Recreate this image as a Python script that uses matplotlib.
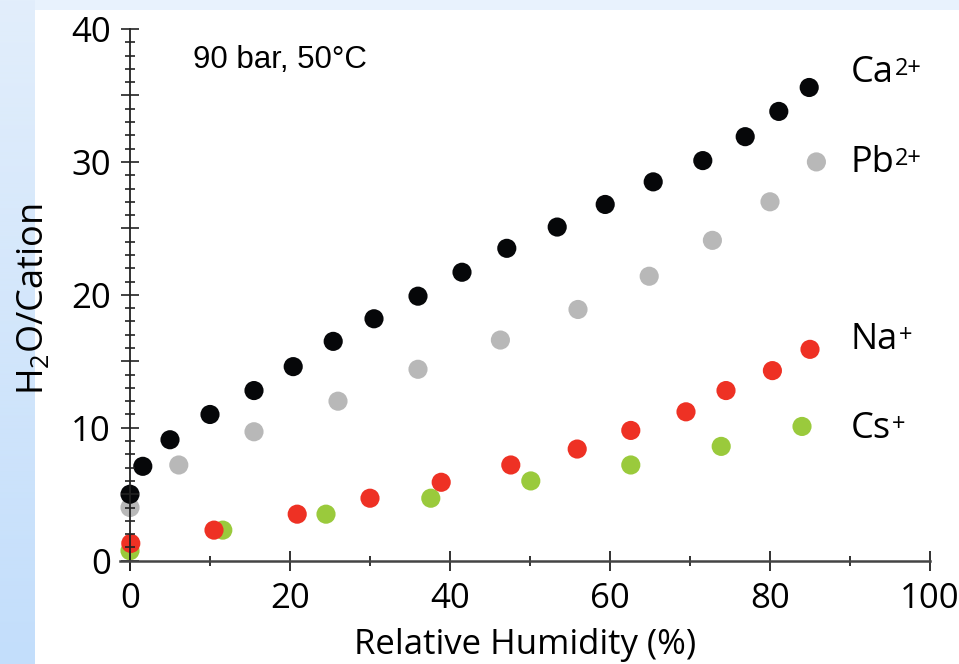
import matplotlib
matplotlib.use("Agg")
import matplotlib.pyplot as plt
from matplotlib.ticker import MultipleLocator
import numpy as np

plt.rcParams['font.family'] = ['Open Sans', 'DejaVu Sans']
plt.rcParams['mathtext.fontset'] = 'custom'
plt.rcParams['mathtext.rm'] = 'Open Sans'
plt.rcParams['mathtext.it'] = 'Open Sans'

# data: relative humidity (%) and H2O per cation
ca_rh = [0, 1.6, 5, 10, 15.5, 20.4, 25.4, 30.5, 36, 41.5, 47.1, 53.4, 59.4, 65.4, 71.6, 76.9, 81.1, 84.9]
ca_h2o = [5.0, 7.1, 9.1, 11.0, 12.8, 14.6, 16.5, 18.2, 19.9, 21.7, 23.5, 25.1, 26.8, 28.5, 30.1, 31.9, 33.8, 35.6]

pb_rh = [0, 6.1, 15.5, 26, 36, 46.3, 56, 64.9, 72.8, 80, 85.8]
pb_h2o = [4.0, 7.2, 9.7, 12.0, 14.4, 16.6, 18.9, 21.4, 24.1, 27.0, 30.0]

na_rh = [0.1, 10.5, 20.9, 30, 38.9, 47.6, 55.9, 62.6, 69.5, 74.5, 80.3, 85]
na_h2o = [1.3, 2.3, 3.5, 4.7, 5.9, 7.2, 8.4, 9.8, 11.2, 12.8, 14.3, 15.9]

cs_rh = [0, 11.6, 24.5, 37.6, 50.1, 62.6, 73.9, 84]
cs_h2o = [0.75, 2.3, 3.5, 4.7, 6.0, 7.2, 8.6, 10.1]

names = ['Cs', 'Na', 'Pb', 'Ca']
charges = ['+', '+', '2+', '2+']
colors = ['#9aca3c', '#ee3124', '#b8b8b8', '#060709']
label_y = [9.25, 15.9, 29.25, 36.0]

W, H = 959, 664
fig = plt.figure(figsize=(W / 100, H / 100), dpi=100)
fig.patch.set_facecolor('white')

# light blue frame on the left and top
bg = fig.add_axes([0, 0, 1, 1], zorder=-10)
bg.set_axis_off()
img = np.ones((H, W, 3))
top_col = np.array([0xe8, 0xf2, 0xfd]) / 255
left_top = np.array([0xe2, 0xee, 0xfb]) / 255
left_bot = np.array([0xc3, 0xde, 0xfb]) / 255
img[:10, :, :] = top_col
t = np.linspace(0, 1, H)[:, None]
img[:, :35, :] = (left_top * (1 - t) + left_bot * t)[:, None, :]
bg.imshow(img, extent=[0, 1, 0, 1], aspect='auto')

ax = fig.add_axes([120 / W, (H - 570) / H, 810 / W, 541 / H])
ax.patch.set_alpha(0)

xs = [cs_rh, na_rh, pb_rh, ca_rh]
ys = [cs_h2o, na_h2o, pb_h2o, ca_h2o]
for x, y, c, name, q, ly in zip(xs, ys, colors, names, charges, label_y):
    ax.scatter(x, y, s=190, color=c, edgecolors='none', zorder=1, clip_on=False)
    base = ax.text(90.1, ly, name, fontsize=26, ha='left', va='baseline')
    ax.annotate(q, xy=(1, 1), xycoords=base, xytext=(0.5, -1.5),
                textcoords='offset points', fontsize=17, ha='left', va='top')

ax.text(7.9, 37.1, '90 bar, 50°C', fontsize=22.5, family='Liberation Sans',
        ha='left', va='baseline')

ax.set_xlim(-1.25, 100)
ax.set_ylim(-0.7, 40)

for s in ['top', 'right']:
    ax.spines[s].set_visible(False)
ax.spines['left'].set_position(('data', 0))
ax.spines['bottom'].set_position(('data', 0))
ax.spines['left'].set_color('#222222')
ax.spines['bottom'].set_color('#444444')
ax.spines['left'].set_linewidth(1.3)
ax.spines['bottom'].set_linewidth(1.8)

ax.xaxis.set_major_locator(MultipleLocator(20))
ax.xaxis.set_minor_locator(MultipleLocator(10))
ax.yaxis.set_minor_locator(MultipleLocator(1))
ax.set_yticks([0, 5, 10, 15, 20, 25, 30, 35, 40])
ax.set_yticklabels(['0', '', '10', '', '20', '', '30', '', '40'])

ax.tick_params(axis='x', which='major', direction='inout', length=14, width=1.3,
               labelsize=25, pad=8, color='#222222')
ax.tick_params(axis='x', which='minor', direction='inout', length=7, width=1.3,
               color='#222222')
ax.tick_params(axis='y', which='major', direction='inout', length=13.5, width=1.2,
               labelsize=25, pad=7, color='#222222')
ax.tick_params(axis='y', which='minor', direction='inout', length=6.5, width=1.2,
               color='#222222')

ax.set_xlabel('Relative Humidity (%)', fontsize=25, labelpad=9)
ax.set_ylabel('H$_2$O/Cation', fontsize=26, labelpad=14)

fig.savefig('out.png', dpi=100)
